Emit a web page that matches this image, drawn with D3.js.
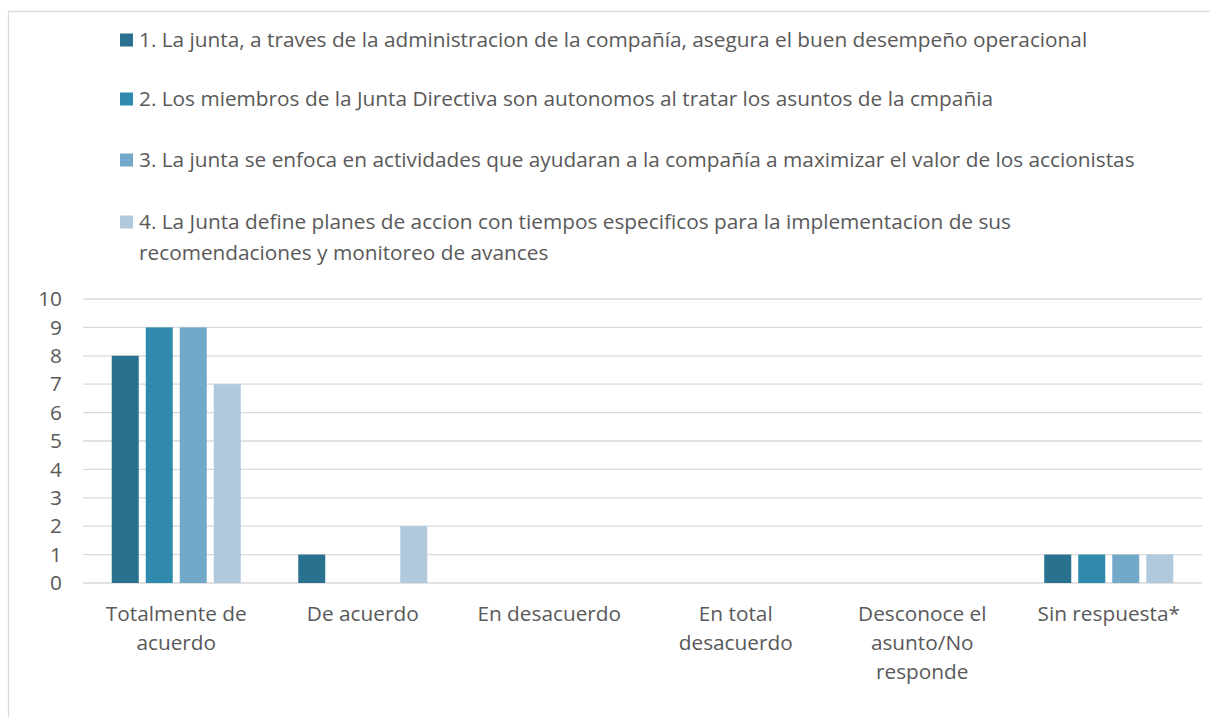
<!DOCTYPE html>
<html>
<head>
<meta charset="utf-8">
<script src="https://cdn.jsdelivr.net/npm/d3@7"></script>
<style>
  body { margin: 0; background: #fff; }
  text { font-family: "Open Sans", sans-serif; fill: #595959; }
</style>
</head>
<body>
<div id="chart"></div>
<script>
// Categories and series
var categories = ["Totalmente de acuerdo", "De acuerdo", "En desacuerdo", "En total desacuerdo", "Desconoce el asunto/No responde", "Sin respuesta*"];
var seriesNames = [
  "1. La junta, a traves de la administracion de la compañía, asegura el buen desempeño operacional",
  "2. Los miembros de la Junta Directiva son autonomos al tratar los asuntos de la cmpañia",
  "3. La junta se enfoca en actividades que ayudaran a la compañía a maximizar el valor de los accionistas",
  "4. La Junta define planes de accion con tiempos especificos para la implementacion de sus recomendaciones y monitoreo de avances"
];
var serie1 = [8, 1, 0, 0, 0, 1];
var serie2 = [9, 0, 0, 0, 0, 1];
var serie3 = [9, 0, 0, 0, 0, 1];
var serie4 = [7, 2, 0, 0, 0, 1];
var yTicks = [0, 1, 2, 3, 4, 5, 6, 7, 8, 9, 10];
var colors = ["#28718f", "#2f8aad", "#73a9c8", "#b1c9dc"];

var allSeries = [serie1, serie2, serie3, serie4];

var width = 1210;
var height = 717;
var fontSize = 20.8;

var svg = d3.select("#chart")
  .append("svg")
  .attr("width", width)
  .attr("height", height);

// chart area border
svg.append("rect")
  .attr("x", 8.5)
  .attr("y", 11.5)
  .attr("width", 1230)
  .attr("height", 730)
  .attr("fill", "none")
  .attr("stroke", "#d9d9d9")
  .attr("stroke-width", 1.3);

// Scales
var xScale = d3.scaleBand()
  .domain(categories)
  .range([83, 1202]);

var xInner = d3.scaleBand()
  .domain(d3.range(allSeries.length))
  .range([0, xScale.bandwidth()])
  .paddingInner(0.206)
  .paddingOuter(0.845);

var yScale = d3.scaleLinear()
  .domain([0, 10])
  .range([583, 299]);

// Gridlines
svg.append("g")
  .selectAll("line")
  .data(yTicks)
  .enter()
  .append("line")
  .attr("x1", 83)
  .attr("x2", 1202)
  .attr("y1", d => yScale(d))
  .attr("y2", d => yScale(d))
  .attr("stroke", "#d9d9d9")
  .attr("stroke-width", 1.3);

// Bars
var groups = svg.append("g")
  .selectAll("g")
  .data(allSeries)
  .enter()
  .append("g")
  .attr("fill", (d, i) => colors[i]);

groups.each(function(values, s) {
  d3.select(this).selectAll("rect")
    .data(values)
    .enter()
    .append("rect")
    .attr("x", (d, i) => xScale(categories[i]) + xInner(s))
    .attr("y", d => yScale(d))
    .attr("width", xInner.bandwidth())
    .attr("height", d => yScale(0) - yScale(d));
});

// Y axis
var yAxis = svg.append("g")
  .attr("transform", "translate(83,0)")
  .call(d3.axisLeft(yScale).tickValues(yTicks).tickSize(0).tickPadding(21));
yAxis.select(".domain").remove();
yAxis.selectAll("text")
  .attr("font-size", fontSize)
  .attr("font-family", null)
  .attr("fill", "#595959");

// Wrap helper
function wrapWords(text, maxWidth, size) {
  var probe = svg.append("text").attr("font-size", size);
  var words = text.split(" ");
  var lines = [];
  var line = words[0];
  for (var i = 1; i < words.length; i++) {
    probe.text(line + " " + words[i]);
    if (probe.node().getComputedTextLength() > maxWidth) {
      lines.push(line);
      line = words[i];
    } else {
      line = line + " " + words[i];
    }
  }
  lines.push(line);
  probe.remove();
  return lines;
}

// Category labels
categories.forEach(function(c) {
  var lines = wrapWords(c, 160, fontSize);
  var t = svg.append("text")
    .attr("text-anchor", "middle")
    .attr("font-size", fontSize);
  lines.forEach(function(l, k) {
    t.append("tspan")
      .attr("x", xScale(c) + xScale.bandwidth() / 2)
      .attr("y", 621 + k * 29)
      .text(l);
  });
});

// Legend
var legendY = [40, 99, 160, 222];
seriesNames.forEach(function(name, i) {
  svg.append("rect")
    .attr("x", 120)
    .attr("y", legendY[i] - 6.5)
    .attr("width", 13)
    .attr("height", 13)
    .attr("fill", colors[i]);
  var lines = wrapWords(name, 1025, fontSize);
  var t = svg.append("text")
    .attr("font-size", fontSize);
  lines.forEach(function(l, k) {
    t.append("tspan")
      .attr("x", 139)
      .attr("y", legendY[i] + 7 + k * 31)
      .text(l);
  });
});
</script>
</body>
</html>
